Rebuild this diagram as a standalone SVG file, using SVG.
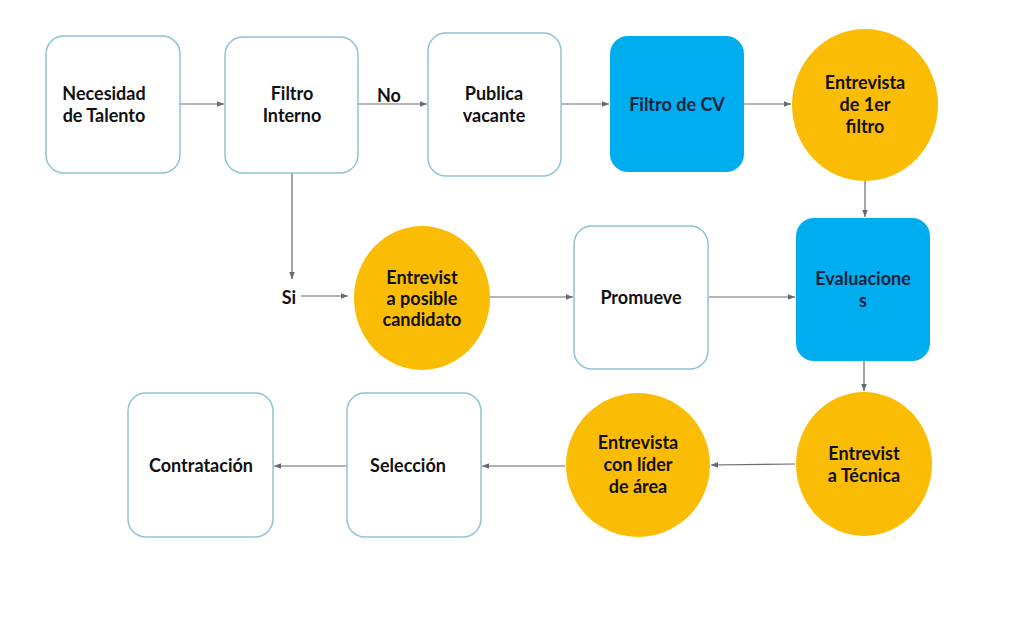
<svg xmlns="http://www.w3.org/2000/svg" width="1020" height="623" viewBox="0 0 1020 623">
<style>
.box{fill:#ffffff;stroke:#8ec3d6;stroke-width:1.5}
.blue{fill:#00aeef}
.gold{fill:#fbbc05}
.t{font-family:Lato,"Liberation Sans",sans-serif;font-weight:bold;font-size:18px;fill:#111111;text-anchor:middle}
.tb{fill:#13223f}
.c{stroke:#666b73;stroke-width:1.2;fill:none;marker-end:url(#ah)}
</style>
<defs>
<marker id="ah" viewBox="0 0 10 10" refX="10" refY="5" markerWidth="7" markerHeight="7" markerUnits="userSpaceOnUse" orient="auto">
<path d="M0,1 L10,5 L0,9 z" fill="#666b73"/>
</marker>
</defs>
<rect width="1020" height="623" fill="#ffffff"/>
<g id="connectors">
<line class="c" x1="180" y1="104" x2="224" y2="104"/>
<line class="c" x1="358" y1="104" x2="427" y2="104"/>
<line class="c" x1="561" y1="104" x2="609" y2="104"/>
<line class="c" x1="744" y1="104" x2="791" y2="104"/>
<line class="c" x1="865" y1="181" x2="865" y2="217"/>
<line class="c" x1="292" y1="173" x2="292" y2="279"/>
<line class="c" x1="301" y1="296" x2="348" y2="296"/>
<line class="c" x1="490" y1="297" x2="573" y2="297"/>
<line class="c" x1="709" y1="297" x2="795" y2="297"/>
<line class="c" x1="864" y1="361" x2="864" y2="391"/>
<line class="c" x1="795" y1="464" x2="711" y2="465"/>
<line class="c" x1="565" y1="466" x2="482" y2="466"/>
<line class="c" x1="347" y1="466" x2="274" y2="466"/>
<text class="t" x="389" y="102">No</text>
<text class="t" x="289" y="304">Si</text>
</g>
<g id="n1">
<rect class="box" x="46" y="36" width="134" height="137" rx="18"/>
<text class="t" x="104" y="100">Necesidad</text>
<text class="t" x="104" y="122">de Talento</text>
</g>
<g id="n2">
<rect class="box" x="225" y="37" width="133" height="136" rx="18"/>
<text class="t" x="292" y="100">Filtro</text>
<text class="t" x="292" y="122">Interno</text>
</g>
<g id="n3">
<rect class="box" x="428" y="33" width="133" height="143" rx="18"/>
<text class="t" x="494" y="100">Publica</text>
<text class="t" x="494" y="122">vacante</text>
</g>
<g id="n4">
<rect class="blue" x="610" y="36" width="134" height="136" rx="18"/>
<text class="t tb" x="677" y="111">Filtro de CV</text>
</g>
<g id="n5">
<ellipse class="gold" cx="865" cy="105" rx="73" ry="76"/>
<text class="t" x="865" y="89">Entrevista</text>
<text class="t" x="865" y="111">de 1er</text>
<text class="t" x="865" y="133">filtro</text>
</g>
<g id="n6">
<rect class="blue" x="796" y="218" width="134" height="143" rx="18"/>
<text class="t tb" x="863" y="285">Evaluacione</text>
<text class="t tb" x="863" y="307">s</text>
</g>
<g id="n7">
<rect class="box" x="574" y="226" width="134" height="143" rx="18"/>
<text class="t" x="641" y="304">Promueve</text>
</g>
<g id="n8">
<ellipse class="gold" cx="422" cy="298" rx="68" ry="72"/>
<text class="t" x="422" y="284">Entrevist</text>
<text class="t" x="422" y="305">a posible</text>
<text class="t" x="422" y="326">candidato</text>
</g>
<g id="n9">
<ellipse class="gold" cx="864" cy="464" rx="68" ry="72"/>
<text class="t" x="864" y="460">Entrevist</text>
<text class="t" x="864" y="482">a Técnica</text>
</g>
<g id="n10">
<ellipse class="gold" cx="638" cy="465" rx="72" ry="72"/>
<text class="t" x="638" y="449">Entrevista</text>
<text class="t" x="638" y="471">con líder</text>
<text class="t" x="638" y="493">de área</text>
</g>
<g id="n11">
<rect class="box" x="347" y="393" width="134" height="144" rx="18"/>
<text class="t" x="408" y="472">Selección</text>
</g>
<g id="n12">
<rect class="box" x="128" y="393" width="145" height="144" rx="18"/>
<text class="t" x="201" y="472">Contratación</text>
</g>
</svg>
